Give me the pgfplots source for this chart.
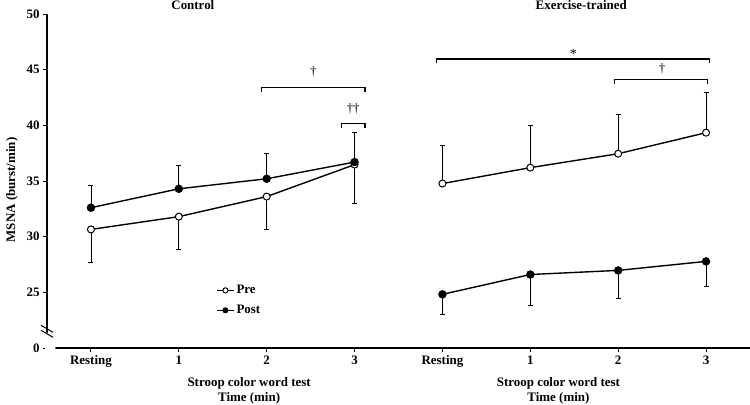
\documentclass[border=0pt]{standalone}
\usepackage{pgfplots}
\pgfplotsset{compat=1.18}
\usepackage{fontspec}
\setmainfont{Liberation Serif}
\pgfplotstableread{
x y e
0 30.65 2.95
1 31.80 2.90
2 33.60 2.95
3 36.47 3.50
}\ctrlpre
\pgfplotstableread{
x y e
0 32.60 2.00
1 34.30 2.10
2 35.20 2.30
3 36.70 2.70
}\ctrlpost
\pgfplotstableread{
x y e
4 34.77 3.40
5 36.20 3.76
6 37.45 3.50
7 39.34 3.60
}\expre
\pgfplotstableread{
x y e
4 24.82 1.80
5 26.60 2.80
6 26.97 2.50
7 27.78 2.25
}\expost
\newcommand\lf{\fontsize{13}{15}\selectfont\bfseries}
\begin{document}
\begin{tikzpicture}
\begin{axis}[
  scale only axis, width=703bp, height=334bp,
  xmin=-0.5, xmax=7.5, ymin=20, ymax=50,
  axis x line=bottom, axis y line=left,
  axis line style={-, line width=1.3pt},
  xtick={0,...,7}, xticklabels={Resting,1,2,3,Resting,1,2,3},
  ytick={20,25,30,35,40,45,50}, yticklabels={0,25,30,35,40,45,50},
  tick align=outside, major tick length=4bp,
  tick style={black, line width=0.9pt},
  /pgf/number format/assume math mode=true,
  ticklabel style={font=\lf},
  clip=false,
  legend style={at={(axis cs:1.39,26.0)}, anchor=north west, draw=none, fill=none,
    font=\lf, row sep=6pt,
    /tikz/every even column/.append style={column sep=2pt}},
  legend cell align=left,
  legend image code/.code={%
    \draw[line width=1.3pt] (0cm,0cm) -- (0.6cm,0cm);
    \draw[mark size=2.6bp, line width=0.8pt, #1] plot coordinates {(0.3cm,0cm)};},
]
\addplot[black, line width=1.4pt, mark=*, mark size=3.5bp, mark options={fill=white, line width=1pt},
  error bars/.cd, y dir=minus, y explicit, error bar style={line width=0.7pt},
  error mark options={rotate=90, mark size=2.5bp, line width=0.7pt}]
  table[x=x, y=y, y error=e] {\ctrlpre};
\addlegendentry{Pre}
\addplot[black, line width=1.4pt, mark=*, mark size=3.5bp, mark options={fill=black},
  error bars/.cd, y dir=plus, y explicit, error bar style={line width=0.7pt},
  error mark options={rotate=90, mark size=2.5bp, line width=0.7pt}]
  table[x=x, y=y, y error=e] {\ctrlpost};
\addlegendentry{Post}
\addplot[forget plot, black, line width=1.4pt, mark=*, mark size=3.5bp, mark options={fill=white, line width=1pt},
  error bars/.cd, y dir=plus, y explicit, error bar style={line width=0.7pt},
  error mark options={rotate=90, mark size=2.5bp, line width=0.7pt}]
  table[x=x, y=y, y error=e] {\expre};
\addplot[forget plot, black, line width=1.4pt, mark=*, mark size=3.5bp, mark options={fill=black},
  error bars/.cd, y dir=minus, y explicit, error bar style={line width=0.7pt},
  error mark options={rotate=90, mark size=2.5bp, line width=0.7pt}]
  table[x=x, y=y, y error=e] {\expost};

% axis break
\fill[white] (axis cs:-0.5,21.95) ++(-6bp,-3bp) -- ++(12bp,-7bp) -- ++(0,4bp) -- ++(-12bp,7bp) -- cycle;
\draw[line width=1pt] (axis cs:-0.5,21.95) ++(-6bp,1bp) -- ++(12bp,-7bp);
\draw[line width=1pt] (axis cs:-0.5,21.95) ++(-6bp,-4bp) -- ++(12bp,-7bp);

% brackets
\draw[line width=1.3pt] (axis cs:1.94,42.97) -- (axis cs:1.94,43.37) -- (axis cs:3.12,43.37) -- (axis cs:3.12,42.97);
\node[font=\fontsize{13}{15}\selectfont] at (axis cs:2.53,44.85) {\textdagger};
\draw[line width=1.3pt] (axis cs:2.85,39.74) -- (axis cs:2.85,40.14) -- (axis cs:3.12,40.14) -- (axis cs:3.12,39.74);
\node[font=\fontsize{13}{15}\selectfont] at (axis cs:2.985,41.45) {\textdagger\textdagger};
\draw[line width=1.3pt] (axis cs:3.93,45.57) -- (axis cs:3.93,45.97) -- (axis cs:7.04,45.97) -- (axis cs:7.04,45.57);
\node[font=\fontsize{14}{15}\selectfont] at (axis cs:5.49,46.45) {*};
\draw[line width=1.3pt] (axis cs:5.96,43.69) -- (axis cs:5.96,44.09) -- (axis cs:7.02,44.09) -- (axis cs:7.02,43.69);
\node[font=\fontsize{13}{15}\selectfont] at (axis cs:6.5,45.05) {\textdagger};

% titles
\node[font=\lf] at (axis cs:1.16,50) [yshift=9bp] {Control};
\node[font=\lf] at (axis cs:5.58,50) [yshift=9bp] {Exercise-trained};

% y label
\node[font=\lf, rotate=90] at ([xshift=-35bp]axis cs:-0.5,34.2) {MSNA (burst/min)};

% x labels
\node[font=\lf] at ([yshift=-35bp]axis cs:1.80,20) {Stroop color word test};
\node[font=\lf] at ([yshift=-50bp]axis cs:1.80,20) {Time (min)};
\node[font=\lf] at ([yshift=-35bp]axis cs:5.32,20) {Stroop color word test};
\node[font=\lf] at ([yshift=-50bp]axis cs:5.32,20) {Time (min)};
\end{axis}
\pgfresetboundingbox
\path[use as bounding box] (-47bp,-57bp) rectangle (703bp,348bp);
\end{tikzpicture}
\end{document}
